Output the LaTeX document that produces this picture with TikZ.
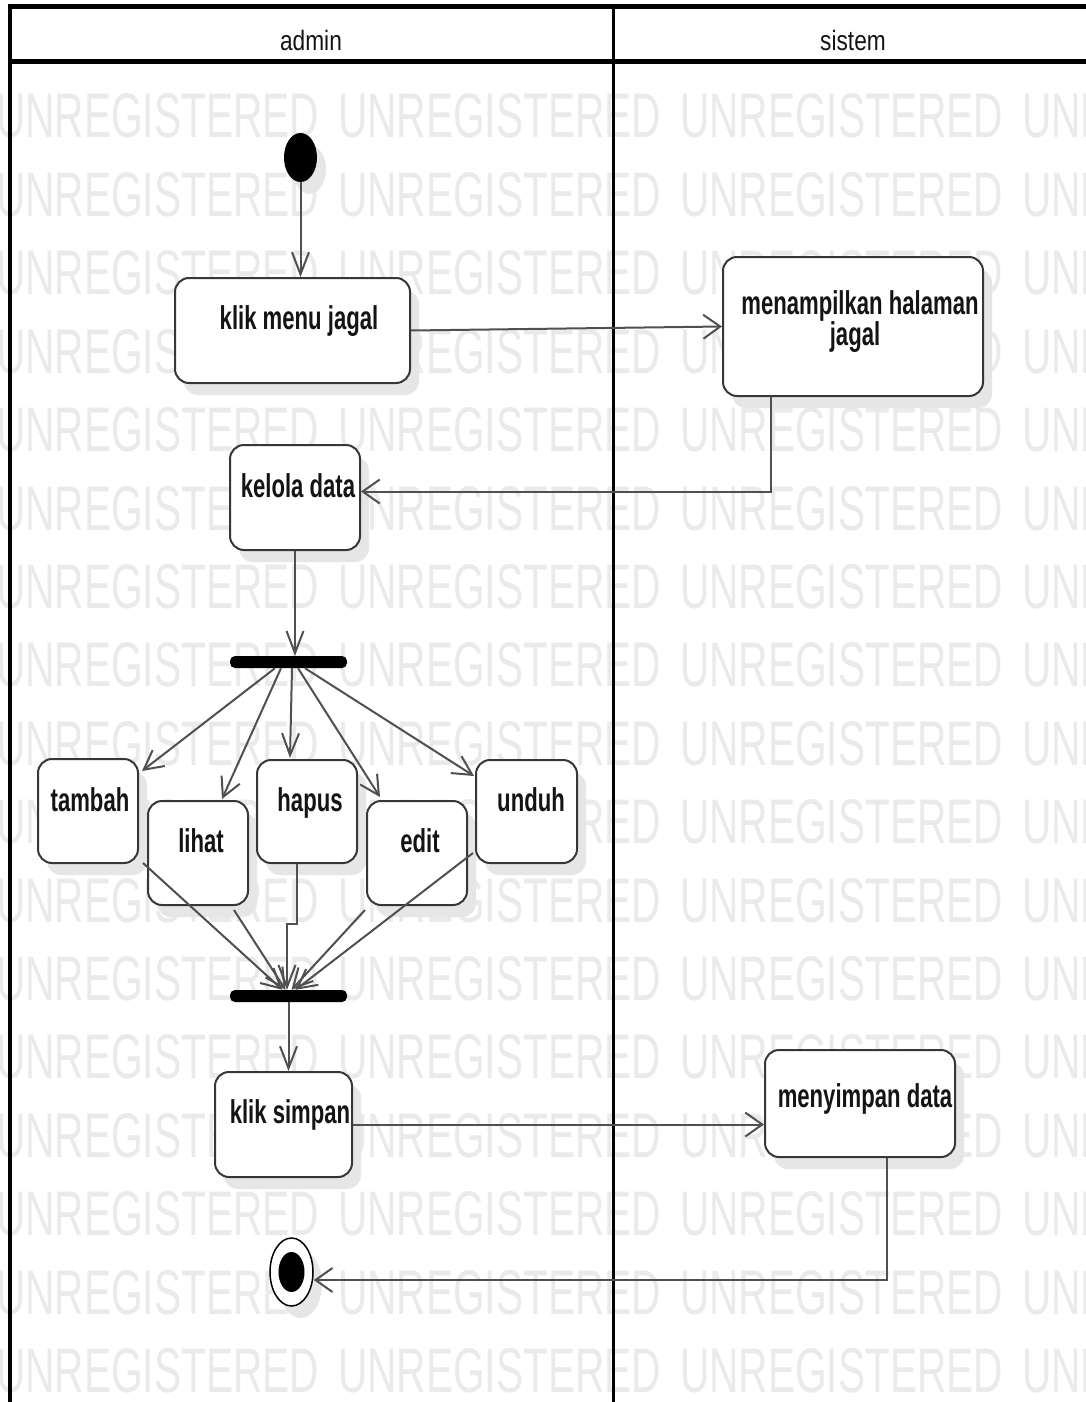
\documentclass[tikz,border=0pt]{standalone}
\usepackage{fontspec}
\setmainfont{Liberation Sans}
\newfontfamily\lblfont[FakeStretch=0.67]{Liberation Sans}
\newfontfamily\hdrfont[FakeStretch=0.81]{Liberation Sans}
\newfontfamily\wmfont[FakeStretch=0.645]{Liberation Sans}
\usetikzlibrary{arrows.meta,shapes.geometric,shadows,calc}
\definecolor{wmc}{RGB}{234,234,234}
\definecolor{shc}{RGB}{230,230,230}
\definecolor{boxc}{RGB}{55,55,55}
\definecolor{linec}{RGB}{80,80,80}
\definecolor{txtc}{RGB}{20,20,20}
\tikzset{
  wm/.style={font=\wmfont\fontsize{63}{66}\selectfont, text=wmc, inner sep=0, anchor=base west},
  shd/.style={drop shadow={shadow xshift=9pt, shadow yshift=-12pt, fill=shc, opacity=1}},
  actbox/.style={draw=boxc, line width=2pt, fill=white, rounded corners=14pt, inner sep=0, shd},
  lbl/.style={font=\lblfont\bfseries\fontsize{33}{36}\selectfont, text=txtc, inner sep=0, anchor=base},
  hdr/.style={font=\hdrfont\fontsize{28}{30}\selectfont, text=txtc, inner sep=0, anchor=base},
  syncbar/.style={fill=black, rounded corners=5pt, minimum width=117pt, minimum height=12pt, inner sep=0},
  hconn/.style={draw=linec, line width=2pt, -{Straight Barb[length=17pt,width=24pt,line width=2pt]}},
  vconn/.style={draw=linec, line width=2pt, -{Straight Barb[length=22pt,width=17pt,line width=2pt]}},
  dconn/.style={draw=linec, line width=2pt, -{Straight Barb[length=19pt,width=20pt,line width=2pt]}},
}
\begin{document}
\begin{tikzpicture}[x=1pt,y=-1pt]
\useasboundingbox[fill=white] (0,0) rectangle (1086,1402);
% watermark
\foreach \r in {0,...,16}{
  \foreach \c in {0,...,3}{
    \node[wm] (wm-\r-\c) at (-4+342*\c, 138+78.4*\r) {UNREGISTERED};
  }
}
% swimlane frame
\draw[line width=5pt] (8,7) -- (1086,7);
\draw[line width=5pt] (10,62) -- (1086,62);
\draw[line width=4pt] (10,5) -- (10,1402);
\draw[line width=3pt] (613,7) -- (613,1402);
\node[hdr] (hA) at (311,51) {admin};
\node[hdr] (hS) at (853,51) {sistem};
% nodes
\node[ellipse, fill=black, minimum width=33pt, minimum height=49pt, inner sep=0, shd] (init) at (300.5,157.5) {};
\node[actbox, minimum width=235pt, minimum height=105pt] (kmj) at (292.5,330.5) {};
\node[actbox, minimum width=260pt, minimum height=139pt] (mhj) at (853,326.5) {};
\node[actbox, minimum width=130pt, minimum height=105pt] (kd) at (295,497.5) {};
\node[syncbar] (fork) at (288.5,662) {};
\node[actbox, minimum width=100pt, minimum height=104pt] (tambah) at (88,811) {};
\node[actbox, minimum width=100pt, minimum height=104pt] (lihat) at (198,853) {};
\node[actbox, minimum width=100pt, minimum height=103pt] (hapus) at (307,811.5) {};
\node[actbox, minimum width=100pt, minimum height=104pt] (edit) at (417,853) {};
\node[actbox, minimum width=101pt, minimum height=103pt] (unduh) at (526.5,811.5) {};
\node[syncbar] (join) at (288.5,996) {};
\node[actbox, minimum width=137pt, minimum height=105pt] (ks) at (283.5,1124.5) {};
\node[actbox, minimum width=190pt, minimum height=107pt] (ms) at (860,1103.5) {};
\node[ellipse, draw=black, line width=1.5pt, fill=white, minimum width=43pt, minimum height=68pt, inner sep=0, shd] (fin) at (291.5,1272) {};
\node[ellipse, fill=black, minimum width=26pt, minimum height=40pt, inner sep=0] (finin) at (fin.center) {};
% labels
\node[lbl] (tkmj) at (299,329) {klik menu jagal};
\node[lbl] (tmhj1) at (860,314) {menampilkan halaman};
\node[lbl] (tmhj2) at (855,345) {jagal};
\node[lbl] (tkd) at (298,497) {kelola data};
\node[lbl] (ttb) at (90,811) {tambah};
\node[lbl] (tlh) at (201,852) {lihat};
\node[lbl] (thp) at (310,811) {hapus};
\node[lbl] (ted) at (420,852) {edit};
\node[lbl] (tud) at (531,811) {unduh};
\node[lbl] (tks) at (290,1123) {klik simpan};
\node[lbl] (tms) at (865,1107) {menyimpan data};
% connectors
\draw[vconn] (init.south) -- (init.south |- kmj.north);
\draw[hconn] (kmj.east) -- (mhj.west);
\draw[hconn] ([xshift=-82pt]mhj.south) |- ([yshift=6pt]kd.east);
\draw[vconn] (kd.south) -- (kd.south |- fork.north);
\draw[dconn] ([xshift=-13.5pt]fork.south) -- ([xshift=3pt,yshift=-13pt]tambah.north east);
\draw[dconn] ([xshift=-7.5pt]fork.south) -- ([xshift=24pt,yshift=1pt]lihat.north);
\draw[vconn] ([xshift=3.5pt]fork.south) -- ([xshift=-17pt,yshift=1pt]hapus.north);
\draw[dconn] ([xshift=9.5pt]fork.south) -- ([xshift=14pt,yshift=3pt]edit.north west);
\draw[dconn] ([xshift=16.5pt]fork.south) -- ([xshift=-1pt,yshift=-17pt]unduh.north west);
\draw[dconn] ([xshift=4pt,yshift=1pt]tambah.south east) -- ([xshift=-6pt]join.north);
\draw[dconn] ([xshift=36pt,yshift=-4pt]lihat.south) -- ([xshift=-3pt]join.north);
\draw[vconn] ([xshift=-10pt]hapus.south) -- ++(0,60) -| ([xshift=-1.5pt]join.north);
\draw[dconn] ([xshift=-1pt,yshift=-4pt]edit.south west) -- ([xshift=3pt]join.north);
\draw[dconn] ([xshift=-2pt,yshift=11pt]unduh.south west) -- ([xshift=7pt]join.north);
\draw[vconn] (join.south) -- (join.south |- ks.north);
\draw[hconn] (ks.east) -- (ks.east -| ms.west);
\draw[hconn] ([xshift=27pt]ms.south) |- ([yshift=-8pt]fin.east);
\end{tikzpicture}
\end{document}
